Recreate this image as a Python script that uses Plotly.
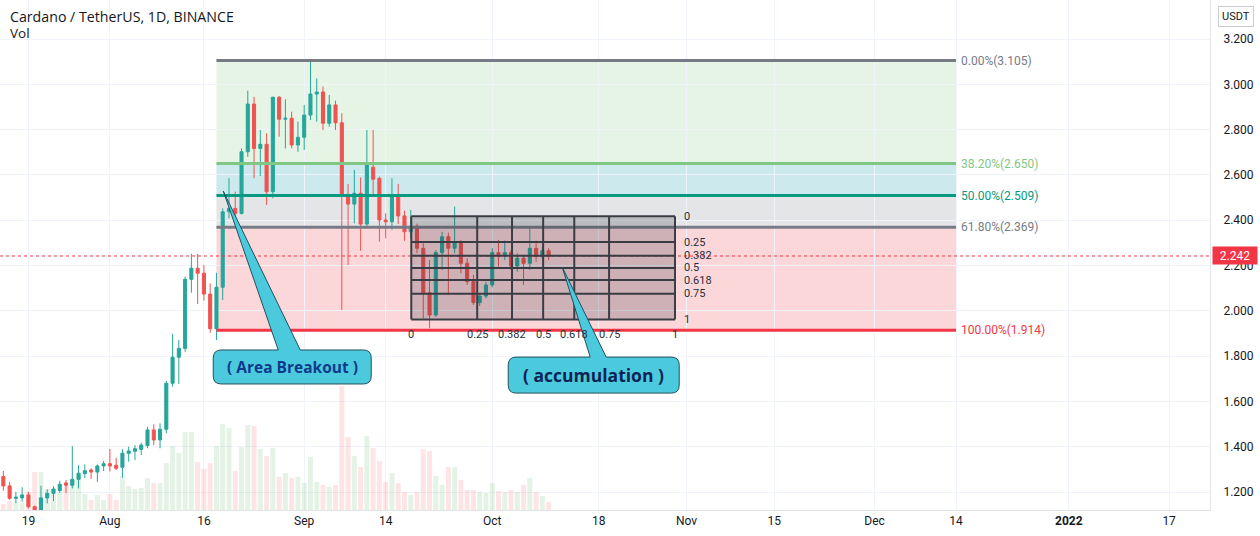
import plotly.graph_objects as go
import pandas as pd

# ---------------- data ----------------
start_date = "2021-07-15"

opens = [1.268, 1.227, 1.172, 1.174, 1.187, 1.135, 1.050, 1.174, 1.194, 1.206,
         1.240, 1.230, 1.256, 1.281, 1.297, 1.288, 1.315, 1.325, 1.318, 1.309,
         1.371, 1.380, 1.388, 1.405, 1.474, 1.430, 1.477, 1.680, 1.795, 1.834,
         2.139, 2.188, 2.166, 2.074, 1.921, 2.104, 2.437, 2.452, 2.430, 2.702,
         2.913, 2.717, 2.735, 2.526, 2.943, 2.846, 2.850, 2.732, 2.766, 2.864,
         2.957, 2.966, 2.828, 2.909, 2.830, 2.511, 2.471, 2.519, 2.383, 2.634,
         2.585, 2.401, 2.393, 2.511, 2.419, 2.349, 2.374, 2.276, 2.080, 1.981,
         2.257, 2.327, 2.276, 2.301, 2.210, 2.129, 2.036, 2.065, 2.114, 2.257,
         2.244, 2.257, 2.198, 2.232, 2.210, 2.276, 2.239, 2.265]
highs = [1.293, 1.245, 1.200, 1.221, 1.201, 1.140, 1.228, 1.212, 1.226, 1.250,
         1.253, 1.403, 1.319, 1.322, 1.305, 1.322, 1.337, 1.390, 1.351, 1.389,
         1.400, 1.407, 1.418, 1.488, 1.499, 1.503, 1.690, 1.898, 1.871, 2.151,
         2.251, 2.251, 2.202, 2.121, 2.168, 2.452, 2.585, 2.526, 2.717, 2.972,
         2.945, 2.798, 2.784, 2.945, 2.948, 2.934, 2.879, 2.835, 2.909, 3.105,
         3.026, 2.990, 2.953, 2.928, 2.872, 2.560, 2.622, 2.589, 2.798, 2.798,
         2.592, 2.430, 2.585, 2.560, 2.442, 2.445, 2.385, 2.298, 2.224, 2.268,
         2.349, 2.345, 2.460, 2.313, 2.232, 2.158, 2.077, 2.128, 2.276, 2.313,
         2.310, 2.268, 2.254, 2.239, 2.371, 2.310, 2.283, 2.276]
lows = [1.206, 1.165, 1.151, 1.157, 1.128, 1.010, 1.030, 1.150, 1.160, 1.197,
        1.196, 1.216, 1.216, 1.262, 1.258, 1.245, 1.292, 1.290, 1.297, 1.263,
        1.334, 1.341, 1.363, 1.393, 1.407, 1.393, 1.459, 1.665, 1.677, 1.819,
        2.080, 2.030, 2.045, 1.903, 1.871, 2.048, 2.408, 2.386, 2.425, 2.680,
        2.585, 2.595, 2.467, 2.497, 2.769, 2.717, 2.717, 2.702, 2.710, 2.842,
        2.835, 2.798, 2.813, 2.798, 2.004, 2.202, 2.386, 2.265, 2.364, 2.504,
        2.305, 2.320, 2.357, 2.383, 2.309, 2.320, 2.254, 1.967, 1.923, 1.974,
        2.180, 2.070, 2.254, 2.166, 2.114, 2.026, 2.021, 2.055, 2.104, 2.195,
        2.224, 2.180, 2.173, 2.114, 2.180, 2.217, 2.227, 2.224]
closes = [1.227, 1.172, 1.177, 1.187, 1.135, 1.050, 1.174, 1.194, 1.213, 1.234,
          1.230, 1.256, 1.283, 1.294, 1.288, 1.315, 1.325, 1.315, 1.305, 1.371,
          1.381, 1.391, 1.407, 1.474, 1.430, 1.477, 1.680, 1.795, 1.834, 2.139,
          2.188, 2.166, 2.074, 1.921, 2.104, 2.437, 2.452, 2.430, 2.702, 2.913,
          2.717, 2.735, 2.526, 2.943, 2.846, 2.850, 2.732, 2.766, 2.864, 2.957,
          2.966, 2.828, 2.909, 2.830, 2.511, 2.471, 2.519, 2.383, 2.644, 2.581,
          2.401, 2.393, 2.511, 2.419, 2.349, 2.374, 2.276, 2.080, 1.981, 2.257,
          2.327, 2.276, 2.301, 2.210, 2.129, 2.036, 2.065, 2.114, 2.257, 2.242,
          2.257, 2.198, 2.232, 2.210, 2.276, 2.239, 2.265, 2.242]
volumes_m = [30, 45, 40, 35, 90, 190, 190, 105, 105, 90,
             120, 150, 175, 80, 50, 75, 50, 80, 50, 170,
             120, 105, 110, 160, 135, 135, 235, 320, 285, 390,
             390, 240, 205, 235, 320, 430, 410, 195, 315, 425,
             420, 305, 270, 310, 165, 185, 160, 165, 135, 265,
             140, 125, 115, 125, 620, 365, 270, 215, 370, 310,
             245, 140, 185, 135, 90, 75, 90, 305, 295, 170,
             125, 215, 215, 150, 100, 100, 90, 85, 135, 95,
             90, 100, 90, 125, 160, 90, 70, 40]

dates = pd.date_range(start_date, periods=len(opens), freq="D")

last_price = 2.242
price_ticks = [1.2, 1.4, 1.6, 1.8, 2.0, 2.2, 2.4, 2.6, 2.8, 3.0, 3.2]
price_tick_labels = ["1.200", "1.400", "1.600", "1.800", "2.000", "2.200",
                     "2.400", "2.600", "2.800", "3.000", "3.200"]
x_tick_dates = ["2021-07-19", "2021-08-01", "2021-08-16", "2021-09-01", "2021-09-14",
                "2021-10-01", "2021-10-18", "2021-11-01", "2021-11-15", "2021-12-01",
                "2021-12-14", "2022-01-01", "2022-01-17"]
x_tick_labels = ["19", "Aug", "16", "Sep", "14", "Oct", "18", "Nov", "15", "Dec",
                 "14", "<b>2022</b>", "17"]

fib_levels = [0.0, 0.382, 0.5, 0.618, 1.0]
fib_prices = [3.105, 2.650, 2.509, 2.369, 1.914]
fib_start = "2021-08-18"
fib_end = "2021-12-14"

gann_levels = [0, 0.25, 0.382, 0.5, 0.618, 0.75, 1]
gann_start = "2021-09-18 02:00"
gann_end = "2021-10-30 04:00"
gann_top = 2.417
gann_bottom = 1.962

callout_texts = ["( Area Breakout )", "( accumulation )"]
callout_tip_dates = ["2021-08-19 02:00", "2021-10-12 04:00"]
callout_tip_prices = [2.529, 2.193]

# ---------------- style / layout ----------------
FONT = "Roboto, 'Liberation Sans', sans-serif"
WIDE = "'Open Sans', Roboto, sans-serif"
UP = "#26a69a"
DOWN = "#ef5350"
W, H = 1260, 536
M_R, M_B = 50, 26
x_range = ["2021-07-14 11:10", "2022-01-23 12:30"]
y_range = [1.12053, 3.37219]
vol_range = [0, 2550]

fib_line_colors = ["#787b86", "#81c784", "#089981", "#787b86", "#f23645"]
fib_fill_colors = ["rgba(129,199,132,0.20)", "rgba(0,151,167,0.20)",
                   "rgba(120,123,134,0.20)", "rgba(242,54,69,0.20)"]

# callout geometry in pixels relative to the tip (x right, y up)
callout_geom = [
    dict(box=(-10, 148, -159, -193), base=(55, 77), size=15.5, color="#0d3a8c"),
    dict(box=(-54, 117, -90, -126), base=(28, 44), size=17.5, color="#0b2454"),
]
CALLOUT_FILL = "#4ccadd"
CALLOUT_LINE = "#22505e"
RAD = 8

fig = go.Figure()

vol_colors = ["rgba(76,175,80,0.15)" if c >= o else "rgba(239,83,80,0.15)"
              for o, c in zip(opens, closes)]
fig.add_trace(go.Bar(x=dates, y=volumes_m, marker=dict(color=vol_colors, line=dict(width=0)),
                     yaxis="y", hoverinfo="skip", showlegend=False))

fig.add_trace(go.Candlestick(
    x=dates, open=opens, high=highs, low=lows, close=closes, yaxis="y2",
    increasing=dict(line=dict(color=UP, width=1), fillcolor=UP),
    decreasing=dict(line=dict(color=DOWN, width=1), fillcolor=DOWN),
    whiskerwidth=0, hoverinfo="skip", showlegend=False))

shapes = []
annotations = []

# current price dotted line
shapes.append(dict(type="line", xref="paper", x0=0, x1=1, yref="y2", y0=last_price, y1=last_price,
                   line=dict(color="#f23645", width=1, dash="dot"), layer="above"))

# fib retracement fills + lines
for k in range(len(fib_prices) - 1):
    shapes.append(dict(type="rect", xref="x", yref="y2", x0=fib_start, x1=fib_end,
                       y0=fib_prices[k], y1=fib_prices[k + 1], fillcolor=fib_fill_colors[k],
                       line=dict(width=0), layer="below"))
for lvl, p, col in zip(fib_levels, fib_prices, fib_line_colors):
    shapes.append(dict(type="line", xref="x", yref="y2", x0=fib_start, x1=fib_end, y0=p, y1=p,
                       line=dict(color=col, width=3), layer="above"))
    annotations.append(dict(x=fib_end, y=p, xref="x", yref="y2", xanchor="left", yanchor="middle",
                            xshift=3, text=f"{lvl * 100:.2f}%({p:.3f})", showarrow=False,
                            font=dict(family=FONT, size=12, color=col)))

# gann box
g0 = pd.Timestamp(gann_start)
g1 = pd.Timestamp(gann_end)
span = g1 - g0
shapes.append(dict(type="rect", xref="x", yref="y2", x0=g0, x1=g1, y0=gann_bottom, y1=gann_top,
                   fillcolor="rgba(40,40,45,0.21)", line=dict(width=0), layer="above"))
for f in gann_levels:
    p = gann_top - f * (gann_top - gann_bottom)
    shapes.append(dict(type="line", xref="x", yref="y2", x0=g0, x1=g1, y0=p, y1=p,
                       line=dict(color="#3a3c44", width=2), layer="above"))
    annotations.append(dict(x=g1, y=p, xref="x", yref="y2", xanchor="left", yanchor="middle",
                            xshift=7, text=f"{f:g}", showarrow=False,
                            font=dict(family=FONT, size=11, color="#2a2e39")))
    d = g0 + span * f
    shapes.append(dict(type="line", xref="x", yref="y2", x0=d, x1=d, y0=gann_bottom, y1=gann_top,
                       line=dict(color="#3a3c44", width=2), layer="above"))
    annotations.append(dict(x=d, y=gann_bottom, xref="x", yref="y2", xanchor="center",
                            yanchor="middle", yshift=-15, text=f"{f:g}", showarrow=False,
                            font=dict(family=FONT, size=11, color="#2a2e39")))

# callouts
for txt, td, tp, g in zip(callout_texts, callout_tip_dates, callout_tip_prices, callout_geom):
    bx0, bx1, byt, byb = g["box"]
    b0, b1 = g["base"]
    r = RAD
    path = (f"M 0 0 L {b1} {byt} L {bx1 - r} {byt} Q {bx1} {byt} {bx1} {byt - r} "
            f"L {bx1} {byb + r} Q {bx1} {byb} {bx1 - r} {byb} L {bx0 + r} {byb} "
            f"Q {bx0} {byb} {bx0} {byb + r} L {bx0} {byt - r} Q {bx0} {byt} {bx0 + r} {byt} "
            f"L {b0} {byt} Z")
    shapes.append(dict(type="path", xref="x", yref="y2", xsizemode="pixel", ysizemode="pixel",
                       xanchor=td, yanchor=tp, path=path, fillcolor=CALLOUT_FILL,
                       line=dict(color=CALLOUT_LINE, width=1), layer="above"))
    annotations.append(dict(x=td, y=tp, xref="x", yref="y2", xshift=(bx0 + bx1) / 2,
                            yshift=(byt + byb) / 2, text=f"<b>{txt}</b>", showarrow=False,
                            xanchor="center", yanchor="middle",
                            font=dict(family=WIDE, size=g["size"], color=g["color"])))

# title
annotations.append(dict(xref="paper", yref="paper", x=0, y=1, xshift=8, yshift=-16,
                        xanchor="left", yanchor="middle", showarrow=False,
                        text="Cardano / TetherUS, 1D, BINANCE",
                        font=dict(family=WIDE, size=14.2, color="#131722")))
annotations.append(dict(xref="paper", yref="paper", x=0, y=1, xshift=8, yshift=-33,
                        xanchor="left", yanchor="middle", showarrow=False, text="Vol",
                        font=dict(family=WIDE, size=13.5, color="#131722")))
# currency box
annotations.append(dict(xref="paper", yref="paper", x=1, y=1, xshift=26, yshift=-16,
                        xanchor="center", yanchor="middle", showarrow=False, text="USDT",
                        bgcolor="white", bordercolor="#c9ccd4", borderwidth=1, borderpad=3,
                        font=dict(family=FONT, size=11, color="#131722")))
# last price label
annotations.append(dict(xref="paper", yref="y2", x=1, y=last_price, xanchor="left", xshift=2,
                        yanchor="middle", showarrow=False, text=f"{last_price:.3f}",
                        bgcolor="#f23645", width=42, height=15, align="center",
                        font=dict(family=FONT, size=12, color="white")))

fig.update_layout(
    width=W, height=H, margin=dict(l=0, r=M_R, t=0, b=M_B),
    paper_bgcolor="white", plot_bgcolor="white",
    showlegend=False, bargap=0.2, hovermode=False,
    font=dict(family=FONT, size=12, color="#131722"),
    xaxis=dict(type="date", range=x_range, rangeslider=dict(visible=False),
               tickvals=x_tick_dates, ticktext=x_tick_labels, showgrid=True,
               gridcolor="#f0f3fa", showline=True, linecolor="#e0e3eb", linewidth=1,
               ticks="", tickfont=dict(family=FONT, size=12, color="#131722"), zeroline=False),
    yaxis=dict(range=vol_range, visible=False, showgrid=False, zeroline=False),
    yaxis2=dict(overlaying="y", side="right", range=y_range, tickvals=price_ticks,
                ticktext=price_tick_labels, showgrid=True, gridcolor="#f0f3fa",
                showline=True, linecolor="#e0e3eb", linewidth=1, ticks="outside",
                ticklen=10, tickcolor="rgba(0,0,0,0)", zeroline=False,
                tickfont=dict(family=FONT, size=12, color="#131722")),
    shapes=shapes, annotations=annotations,
)

fig.write_html("out.html")
